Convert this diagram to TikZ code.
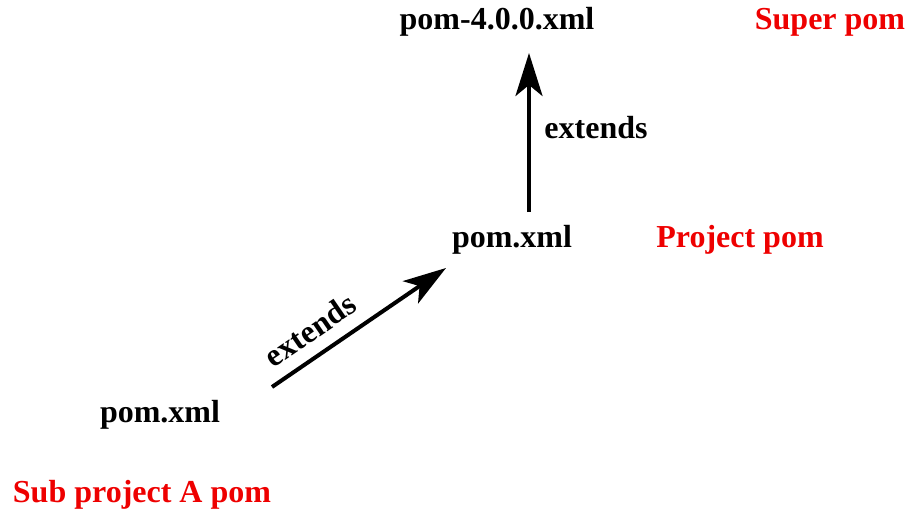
\documentclass[tikz,border=0pt]{standalone}
\usepackage{fontspec}
\setmainfont{Liberation Serif}
\usetikzlibrary{arrows.meta}
\definecolor{pomred}{RGB}{238,0,0}
\tikzset{
  lbl/.style={font=\fontsize{32}{37}\selectfont\bfseries, inner sep=0pt, anchor=center},
  redlbl/.style={lbl, text=pomred},
  ext/.style={line width=4pt, -{Stealth[length=43pt, width=27pt, inset=11pt]}}
}
\begin{document}
\begin{tikzpicture}[x=1pt,y=-1pt]
\useasboundingbox (0,0) rectangle (915,516);
\node[lbl] (super) at (497,22) {pom-4.0.0.xml};
\node[redlbl] (superlbl) at (830,22) {Super pom};
\node[lbl] (proj) at (512,240) {pom.xml};
\node[redlbl] (projlbl) at (740,240) {Project pom};
\node[lbl] (sub) at (160,415) {pom.xml};
\node[redlbl] (sublbl) at (142,495) {Sub project A pom};
\coordinate (vs) at (529,212);
\coordinate (vt) at (529,53);
\coordinate (ds) at (272,387);
\coordinate (dt) at (446,268);
\draw[ext] (vs) -- (vt);
\draw[ext] (ds) -- (dt);
\node[lbl] (vlbl) at (596,128) {extends};
\node[lbl, rotate=34.5] (dlbl) at (310,330) {extends};
\end{tikzpicture}
\end{document}
